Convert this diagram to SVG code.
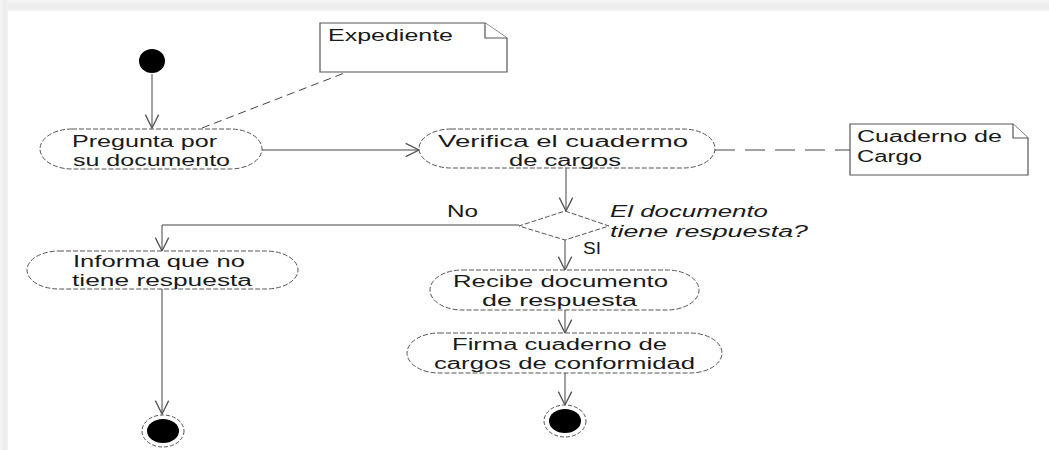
<svg xmlns="http://www.w3.org/2000/svg" width="1049" height="450" viewBox="0 0 1049 450">
<style>
.t{font-family:"Liberation Sans",Arial,sans-serif;font-size:16px;fill:#1a1a1a}
.it{font-style:italic}
.node{fill:#fff;stroke:#555;stroke-width:1;stroke-dasharray:5 2}
.note{fill:#fff;stroke:#555;stroke-width:1.2}
.conn{fill:none;stroke:#444;stroke-width:1}
.dash1{fill:none;stroke:#444;stroke-width:1;stroke-dasharray:8 5}
.dash2{fill:none;stroke:#444;stroke-width:1;stroke-dasharray:20 10}
</style>
<defs>
<linearGradient id="gTop" x1="0" y1="0" x2="0" y2="1">
<stop offset="0" stop-color="#f6f6f6"/><stop offset="0.6" stop-color="#ebebeb"/><stop offset="1" stop-color="#f4f4f4"/>
</linearGradient>
<linearGradient id="gLeft" x1="0" y1="0" x2="1" y2="0">
<stop offset="0" stop-color="#f6f6f6"/><stop offset="0.6" stop-color="#ebebeb"/><stop offset="1" stop-color="#f4f4f4"/>
</linearGradient>
<marker id="arr" markerUnits="userSpaceOnUse" markerWidth="16" markerHeight="16" viewBox="0 0 12 12" refX="11" refY="6" orient="auto">
<path d="M1,1 L11,6 L1,11" fill="none" stroke="#555" stroke-width="1"/>
</marker>
</defs>
<rect width="1049" height="450" fill="#fff"/>
<rect x="0" y="0" width="1049" height="11" fill="url(#gTop)"/>
<rect x="0" y="0" width="8" height="450" fill="url(#gLeft)"/>

<g id="connectors">
<path class="conn" d="M152,74 V128" marker-end="url(#arr)"/>
<path class="conn" d="M262,150 H419" marker-end="url(#arr)"/>
<path class="conn" d="M566,168 V211" marker-end="url(#arr)"/>
<path class="conn" d="M519,225 H162 V251" marker-end="url(#arr)"/>
<path class="conn" d="M565,240 V270" marker-end="url(#arr)"/>
<path class="conn" d="M565,310 V333" marker-end="url(#arr)"/>
<path class="conn" d="M565,373 V405" marker-end="url(#arr)"/>
<path class="conn" d="M162,289 V414" marker-end="url(#arr)"/>
<path class="dash1" d="M202,128 L347,72"/>
<path class="dash2" d="M715,150 H850"/>
</g>

<g id="start">
<ellipse cx="152" cy="61" rx="13" ry="12" fill="#000"/>
</g>

<g id="expediente">
<path class="note" d="M320,23 H485 L507,38 V72 H320 Z"/>
<path class="note" d="M485,23 V38 H507" fill="none"/>
<text class="t" x="328" y="41" textLength="125" lengthAdjust="spacingAndGlyphs">Expediente</text>
</g>

<g id="pregunta">
<rect class="node" x="40" y="129" width="222" height="40" rx="32" ry="20"/>
<text class="t" x="72" y="147" textLength="145" lengthAdjust="spacingAndGlyphs">Pregunta por</text>
<text class="t" x="73" y="166" textLength="157" lengthAdjust="spacingAndGlyphs">su documento</text>
</g>

<g id="verifica">
<rect class="node" x="419" y="129" width="296" height="39" rx="32" ry="19.5"/>
<text class="t" x="438" y="147" textLength="250" lengthAdjust="spacingAndGlyphs">Verifica el cuadermo</text>
<text class="t" x="509" y="166" textLength="112" lengthAdjust="spacingAndGlyphs">de cargos</text>
</g>

<g id="cuaderno">
<path class="note" d="M850,124 H1013 L1028,138 V175 H850 Z"/>
<path class="note" d="M1013,124 V138 H1028" fill="none"/>
<text class="t" x="857" y="142" textLength="145" lengthAdjust="spacingAndGlyphs">Cuaderno de</text>
<text class="t" x="857" y="162" textLength="65" lengthAdjust="spacingAndGlyphs">Cargo</text>
</g>

<g id="decision">
<path class="node" d="M565,211 L609,226 L565,240 L519,226 Z"/>
<text class="t it" x="610" y="217" textLength="158" lengthAdjust="spacingAndGlyphs">El documento</text>
<text class="t it" x="610" y="237" textLength="198" lengthAdjust="spacingAndGlyphs">tiene respuesta?</text>
<text class="t" x="447" y="217" textLength="31" lengthAdjust="spacingAndGlyphs">No</text>
<text class="t" x="583" y="254" textLength="18" lengthAdjust="spacingAndGlyphs">SI</text>
</g>

<g id="informa">
<rect class="node" x="27" y="251" width="271" height="38" rx="32" ry="19"/>
<text class="t" x="73" y="267" textLength="172" lengthAdjust="spacingAndGlyphs">Informa que no</text>
<text class="t" x="72" y="286" textLength="180" lengthAdjust="spacingAndGlyphs">tiene respuesta</text>
</g>

<g id="recibe">
<rect class="node" x="430" y="270" width="269" height="40" rx="32" ry="20"/>
<text class="t" x="453" y="287" textLength="215" lengthAdjust="spacingAndGlyphs">Recibe documento</text>
<text class="t" x="482" y="306" textLength="155" lengthAdjust="spacingAndGlyphs">de respuesta</text>
</g>

<g id="firma">
<rect class="node" x="407" y="333" width="315" height="40" rx="32" ry="20"/>
<text class="t" x="452" y="350" textLength="215" lengthAdjust="spacingAndGlyphs">Firma cuaderno de</text>
<text class="t" x="434" y="369" textLength="261" lengthAdjust="spacingAndGlyphs">cargos de conformidad</text>
</g>

<g id="end1">
<ellipse cx="163" cy="431" rx="21" ry="16" fill="#fff" stroke="#555" stroke-width="1" stroke-dasharray="4 2"/>
<ellipse cx="163" cy="431" rx="16" ry="12" fill="#000"/>
</g>

<g id="end2">
<ellipse cx="565" cy="421" rx="21" ry="16" fill="#fff" stroke="#555" stroke-width="1" stroke-dasharray="4 2"/>
<ellipse cx="565" cy="421" rx="16" ry="12" fill="#000"/>
</g>
</svg>
